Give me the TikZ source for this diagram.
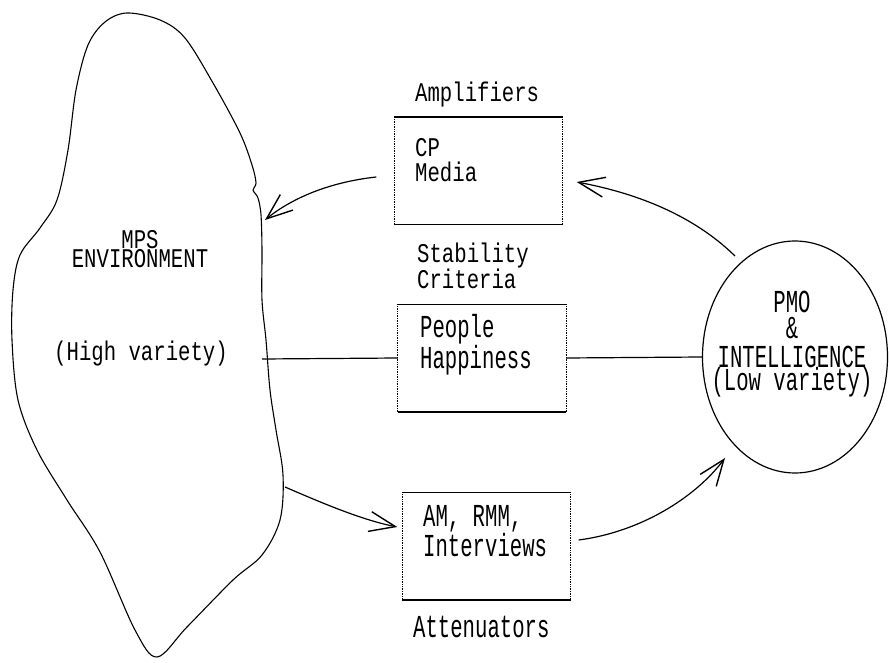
\documentclass[tikz,border=0pt]{standalone}
\usepackage{fontspec}
\newfontfamily\dmbig[FakeStretch=0.645]{Liberation Mono}
\newfontfamily\dmsmall[FakeStretch=0.765]{Liberation Mono}
\usetikzlibrary{arrows.meta,shapes.geometric,calc}
\begin{document}
\begin{tikzpicture}[x=1pt,y=-1pt,
  lbl/.style={inner sep=0pt, align=left, font=\dmsmall\fontsize{27}{26}\selectfont, anchor=base west},
  lblbig/.style={inner sep=0pt, align=left, font=\dmbig\fontsize{32}{26}\selectfont, anchor=base west},
  boxn/.style={inner sep=0pt, minimum width=168pt, minimum height=107pt},
  hedge/.style={line width=1.6pt},
  vedge/.style={line width=0.7pt, densely dotted},
  conn/.style={line width=1.2pt},
  barb/.style={-{Straight Barb[length=26pt,width=20pt,line width=1.4pt]}}
]
\useasboundingbox (0,0) rectangle (889,663);

% environment blob
\draw[line width=1.1pt] plot[smooth cycle, tension=0.55] coordinates {
 (127,13) (160,20) (185,38) (213,83) (240,133) (252,165) (256,183)
 (253,190) (258,198) (261,215) (262,250) (262,300) (266,340) (270,390)
 (276,430) (283,475) (280,520) (262,555) (233,580) (187,627) (157,657)
 (135,630) (100,552) (67,500) (37,450) (18,400) (12,340) (13,290)
 (20,255) (40,228) (57,200) (68,150) (76,90) (88,45) (105,22)};
\coordinate (envA) at (265,220);
\coordinate (envM) at (262,359);
\coordinate (envC) at (285,487);

\node[anchor=base, inner sep=0pt, align=center, font=\dmsmall\fontsize{27}{19}\selectfont] (mps) at (140,267) {MPS\\ENVIRONMENT};
\node[anchor=base, inner sep=0pt, font=\dmsmall\fontsize{27}{30}\selectfont] (high) at (141,360) {(High variety)};

% boxes
\node[boxn] (amp) at (478.5,171) {};
\node[boxn] (mid) at (482,358) {};
\node[boxn] (att) at (486.5,546) {};
\foreach \b in {amp,mid,att}{
  \draw[hedge] (\b.north west) -- (\b.north east);
  \draw[hedge] (\b.south west) -- (\b.south east);
  \draw[vedge] (\b.north west) -- (\b.south west);
  \draw[vedge] (\b.north east) -- (\b.south east);
}

\node[lbl] (ampl) at (415,102) {Amplifiers};
\node[lbl, font=\dmsmall\fontsize{27}{25}\selectfont] (cp) at (415,182) {CP\\Media};
\node[lbl] (stab) at (417,288) {Stability\\Criteria};
\node[lblbig] (people) at (420,368) {People\\Happiness};
\node[lblbig, font=\dmbig\fontsize{32}{28}\selectfont] (am) at (423,556) {AM, RMM,\\Interviews};
\node[lblbig] (atten) at (413,637) {Attenuators};

% PMO ellipse
\node[draw, ellipse, line width=1.2pt, inner sep=0pt, minimum width=185pt, minimum height=232pt] (pmo) at (795,357) {};
\node[anchor=base, inner sep=0pt, align=center, font=\dmbig\fontsize{32}{26}\selectfont] (pmot) at (792,390) {PMO\\\&\\[3pt]INTELLIGENCE\\[-3pt](Low variety)};

% connectors
\draw[conn] (envM) -- (mid.west);
\draw[conn] (mid.east) -- (pmo.west);
\draw[conn,barb] ([xshift=-18pt,yshift=-6pt]amp.west) .. controls (330,182) and (292,198) .. (envA);
\draw[conn,barb] ($(pmo.center)+(-60,-101)$) .. controls (690,212) and (630,192) .. ([xshift=14pt,yshift=-11pt]amp.east);
\draw[conn,barb] (envC) .. controls (322,503) and (362,520) .. ([xshift=-5pt,yshift=19pt]att.west);
\draw[conn,barb] ([xshift=8pt,yshift=6pt]att.east) .. controls (640,532) and (695,498) .. ($(pmo.center)+(-70,101)$);
\end{tikzpicture}
\end{document}
